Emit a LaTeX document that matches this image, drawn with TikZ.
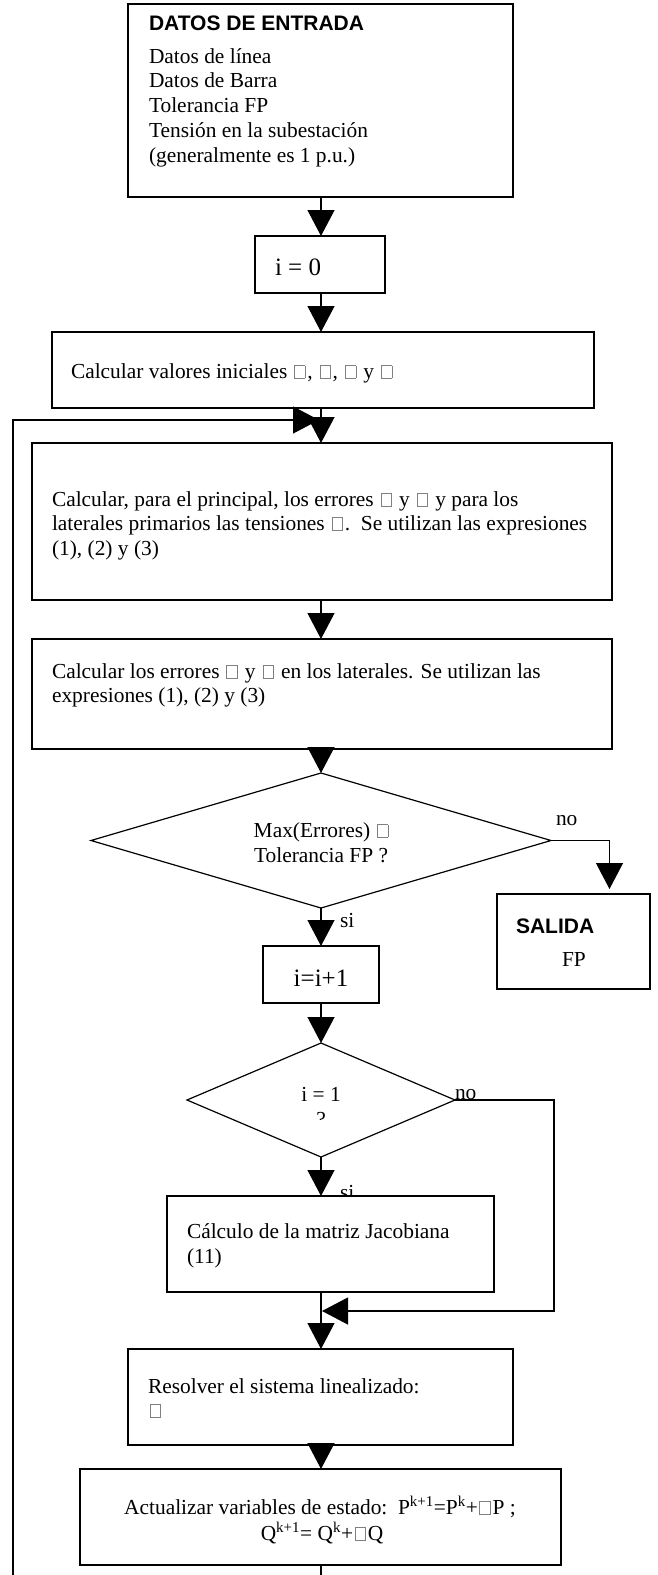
\documentclass[tikz,border=0pt]{standalone}
\usepackage{fontspec}
\setmainfont{Liberation Serif}
\newfontfamily\arialfont{Liberation Sans}
\usetikzlibrary{arrows.meta,shapes.geometric}
\newcommand{\gbx}{\hspace{1.5pt}{\color{gray}\fboxsep=0pt\fboxrule=0.6pt\fbox{\rule{0pt}{12pt}\hspace{10pt}}}\hspace{2pt}}
\begin{document}
\begin{tikzpicture}[x=1pt,y=-1pt,line width=1.2pt,
  box/.style={draw,rectangle,inner sep=0pt,outer sep=0pt,fill=white},
  dia/.style={draw,diamond,inner sep=0pt,outer sep=0pt,fill=white},
  txt/.style={inner sep=0pt,outer sep=0pt,font=\fontsize{21.4pt}{25pt}\selectfont},
  bigtxt/.style={inner sep=0pt,outer sep=0pt,font=\fontsize{25pt}{29pt}\selectfont},
  hd/.style={inner sep=0pt,outer sep=0pt,font=\fontsize{21pt}{25pt}\selectfont\arialfont\bfseries},
  arr/.style={-{Triangle[width=27pt,length=26pt]}}]
\useasboundingbox (0,0) rectangle (657,1575);
\coordinate (ax) at (321,0);
% boxes
\node[box,minimum width=385pt,minimum height=193pt] (in) at (320.5,100.5) {};
\node[box,minimum width=130pt,minimum height=57pt] (i0) at (320,264.5) {};
\node[box,minimum width=542pt,minimum height=76pt] (init) at (323,370) {};
\node[box,minimum width=580pt,minimum height=157pt] (b3) at (322,521.5) {};
\node[box,minimum width=580pt,minimum height=110pt] (b4) at (322,694) {};
\node[dia,minimum width=460pt,minimum height=135pt] (d1) at (321,840.5) {};
\node[box,minimum width=153pt,minimum height=95pt] (sal) at (573.5,941.5) {};
\node[box,minimum width=116pt,minimum height=57pt] (inc) at (321,974.5) {};
\node[dia,minimum width=268pt,minimum height=114pt] (d2) at (321,1100) {};
\node[txt,anchor=base west] (si2) at (340,1199) {si};
\node[box,minimum width=327pt,minimum height=96pt] (jac) at (330.5,1244) {};
\node[box,minimum width=385pt,minimum height=96pt] (res) at (320.5,1397) {};
\node[box,minimum width=481pt,minimum height=96pt] (act) at (320.5,1517) {};
% texts
\node[hd,anchor=base west] (t0) at (149,30) {DATOS DE ENTRADA};
\node[txt,anchor=base west] (t1) at (149,63) {Datos de línea};
\node[txt,anchor=base west] (t2) at (149,87) {Datos de Barra};
\node[txt,anchor=base west] (t3) at (149,112) {Tolerancia FP};
\node[txt,anchor=base west] (t4) at (149,137) {Tensión en la subestación};
\node[txt,anchor=base west] (t5) at (149,162) {(generalmente es 1 p.u.)};
\node[bigtxt,anchor=base west] (ti0) at (275,275) {i = 0};
\node[txt,anchor=base west] (tinit) at (71,378) {Calcular valores iniciales \gbx, \gbx, \gbx\ y \gbx};
\node[txt,anchor=base west] (tb31) at (52,506) {Calcular, para el principal, los errores \gbx\ y \gbx\ y para los};
\node[txt,anchor=base west] (tb32) at (52,530) {laterales primarios las tensiones \gbx.\ \ Se utilizan las expresiones};
\node[txt,anchor=base west] (tb33) at (52,555) {(1), (2) y (3)};
\node[txt,anchor=base west] (tb41) at (52,678) {Calcular los errores \gbx\ y \gbx\ en los laterales. Se utilizan las};
\node[txt,anchor=base west] (tb42) at (52,702) {expresiones (1), (2) y (3)};
\node[txt,anchor=base] (td11) at (321,837) {Max(Errores) \gbx};
\node[txt,anchor=base] (td12) at (321,862) {Tolerancia FP ?};
\node[txt,anchor=base west] (no1) at (556,825) {no};
\node[txt,anchor=base west] (si1) at (340,927) {si};
\node[hd,anchor=base west] (tsal) at (516,933) {SALIDA};
\node[txt,anchor=base west] (tfp) at (562,966) {FP};
\node[bigtxt,anchor=base] (tinc) at (321,986) {i=i+1};
\node[txt,anchor=base] (td21) at (321,1101) {i = 1};
\begin{scope}
\clip (250,1100) rectangle (400,1119);
\node[txt,anchor=base] (td22) at (321,1126) {?};
\end{scope}
\node[txt,anchor=base west] (no2) at (455,1099) {no};
\node[txt,anchor=base west] (tj1) at (187,1238) {Cálculo de la matriz Jacobiana};
\node[txt,anchor=base west] (tj2) at (187,1263) {(11)};
\node[txt,anchor=base west] (tr1) at (148,1393) {Resolver el sistema linealizado:};
\node[txt,anchor=base west] (tr2) at (148,1417) {\gbx};
\node[txt,anchor=base] (ta1) at (320,1514) {Actualizar variables de estado:\ \ P\textsuperscript{k+1}=P\textsuperscript{k}+\gbx P ;};
\node[txt,anchor=base] (ta2) at (322,1540) {Q\textsuperscript{k+1}= Q\textsuperscript{k}+\gbx Q};
% connectors
\draw[arr] (in.south -| ax) -- (i0.north -| ax);
\draw[arr] (i0.south -| ax) -- (init.north -| ax);
\draw[arr] (init.south -| ax) -- (b3.north -| ax);
\draw[arr] (b3.south -| ax) -- (b4.north -| ax);
\draw[arr] (b4.south -| ax) -- (d1.north);
\coordinate (nox) at (609.5,0);
\draw[arr,shorten >=5pt] (d1.east) -| (sal.north -| nox);
\draw[arr] (d1.south) -- (inc.north -| ax);
\draw[arr] (inc.south -| ax) -- (d2.north);
\draw[arr] (d2.south) -- (jac.north -| ax);
\draw[arr] (jac.south -| ax) -- (res.north -| ax);
\coordinate (nor) at (554,1311);
\coordinate (join) at (322,1311);
\draw[arr] (d2.east) -| (nor) -- (join);
\draw[arr] (res.south -| ax) -- (act.north -| ax);
\coordinate (lp1) at (321,1590);
\coordinate (lp2) at (13,1590);
\coordinate (lp3) at (13,420);
\coordinate (lp4) at (319,420);
\draw[arr] (act.south -| ax) -- (lp1) -- (lp2) -- (lp3) -- (lp4);
\end{tikzpicture}
\end{document}
